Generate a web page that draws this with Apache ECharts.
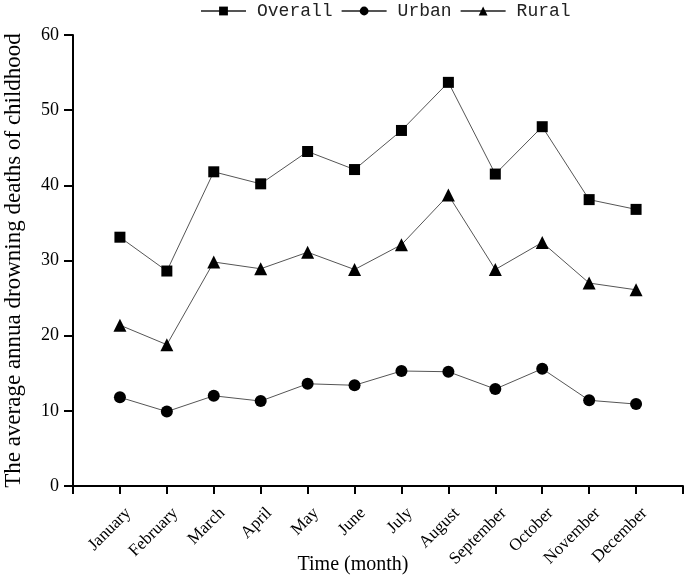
<!DOCTYPE html>
<html><head><meta charset="utf-8">
<script src="https://cdn.jsdelivr.net/npm/echarts@6/dist/echarts.min.js"></script>
<style>html,body{margin:0;padding:0;background:#fff}#c{width:685px;height:576px}</style>
</head><body><div id="c"></div>
<script>
const months = ['January','February','March','April','May','June','July','August','September','October','November','December'];
const overall = [33.1, 28.6, 41.8, 40.2, 44.5, 42.1, 47.3, 53.7, 41.5, 47.8, 38.1, 36.8];
const urban = [11.8, 9.9, 12.0, 11.3, 13.6, 13.4, 15.3, 15.2, 12.9, 15.6, 11.4, 10.9];
const rural = [21.4, 18.8, 29.8, 28.9, 31.1, 28.8, 32.1, 38.7, 28.8, 32.4, 27.0, 26.1];
const yTicks = [0, 10, 20, 30, 40, 50, 60];

const toPts = arr => arr.map((v, i) => [i + 1, v]);
const serif = '"Liberation Serif", "Times New Roman", serif';
const mono = '"Liberation Mono", "DejaVu Sans Mono", monospace';

const chart = echarts.init(document.getElementById('c'), null, {renderer: 'canvas'});
const mk = (name, data, symbol, size) => ({
  name, type: 'line', data: toPts(data), symbol, symbolSize: size,
  itemStyle: {color: '#000'}, lineStyle: {color: '#555', width: 1},
  emphasis: {disabled: true}, animation: false
});
chart.setOption({
  animation: false,
  legend: {
    top: -3, left: 195, itemWidth: 45, itemHeight: 11, itemGap: 8,
    textStyle: {fontFamily: mono, fontSize: 18, color: '#222', padding: [0, 0, 0, 6]},
    data: ['Overall', 'Urban', 'Rural']
  },
  grid: {left: 73, right: 2, top: 35, bottom: 90, containLabel: false, outerBoundsMode: 'none'},
  xAxis: {
    type: 'value', min: 0, max: 13, interval: 1,
    name: 'Time (month)', nameLocation: 'middle', nameGap: 69, nameMoveOverlap: false,
    nameTextStyle: {fontFamily: serif, fontSize: 20, color: '#000', padding: [0, 50, 0, 0]},
    axisLine: {show: true, lineStyle: {color: '#000', width: 2}},
    axisTick: {show: true, length: 8, inside: false, lineStyle: {color: '#000', width: 2}},
    splitLine: {show: false},
    axisLabel: {
      rotate: 45, fontFamily: serif, fontSize: 17, color: '#000', margin: 33,
      padding: [0, -12, 0, 0],
      formatter: v => (v >= 1 && v <= 12) ? months[v - 1] : ''
    }
  },
  yAxis: {
    type: 'value', min: yTicks[0], max: yTicks[yTicks.length - 1], interval: 10,
    name: 'The average annua drowning deaths of childhood', nameLocation: 'middle', nameGap: 48,
    nameTextStyle: {fontFamily: serif, fontSize: 23, color: '#000'},
    axisLine: {show: true, lineStyle: {color: '#000', width: 2}},
    axisTick: {show: true, length: 9, lineStyle: {color: '#000', width: 2}},
    splitLine: {show: false},
    axisLabel: {fontFamily: serif, fontSize: 18, color: '#000', margin: 14}
  },
  series: [
    mk('Overall', overall, 'rect', 11),
    mk('Urban', urban, 'circle', 12),
    mk('Rural', rural, 'triangle', 13)
  ]
});
</script></body></html>
